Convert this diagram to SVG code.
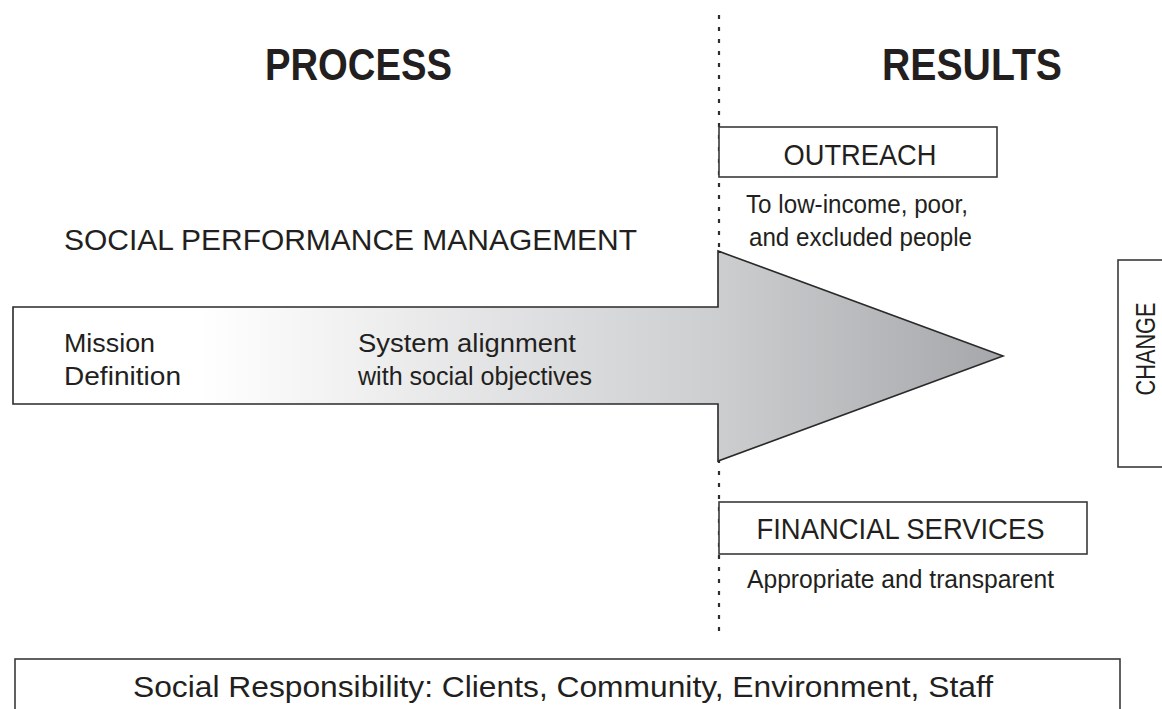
<svg xmlns="http://www.w3.org/2000/svg" width="1162" height="709" viewBox="0 0 1162 709">
<style>
  text { font-family: "Liberation Sans", Arial, sans-serif; fill: #231f20; }
  .title { font-size: 44px; font-weight: bold; }
  .cap { font-size: 29.5px; }
  .body { font-size: 25.5px; }
  .box { fill: #ffffff; stroke: #3a3a3a; stroke-width: 1.6; }
</style>
<defs>
  <linearGradient id="arrowGrad" gradientUnits="userSpaceOnUse" x1="13" y1="0" x2="1003" y2="0">
    <stop offset="0" stop-color="#ffffff"/>
    <stop offset="0.19" stop-color="#ffffff"/>
    <stop offset="0.71" stop-color="#cdced0"/>
    <stop offset="1" stop-color="#a6a7aa"/>
  </linearGradient>
</defs>
<rect width="1162" height="709" fill="#ffffff"/>

<g id="titles">
  <text class="title" x="358.5" y="80" text-anchor="middle" textLength="187" lengthAdjust="spacingAndGlyphs">PROCESS</text>
  <text class="title" x="972" y="80" text-anchor="middle" textLength="180" lengthAdjust="spacingAndGlyphs">RESULTS</text>
</g>

<g id="connectors">
  <line x1="719" y1="15" x2="719" y2="637" stroke="#2e2e2e" stroke-width="2.2" stroke-dasharray="4 8"/>
</g>

<g id="spm-arrow">
  <polygon points="13,307 718,307 718,251 1003,356 718,461 718,404 13,404" fill="url(#arrowGrad)" stroke="#2a2a2a" stroke-width="1.6" stroke-linejoin="miter"/>
  <text class="body" x="64" y="352" textLength="91" lengthAdjust="spacingAndGlyphs">Mission</text>
  <text class="body" x="64" y="385" textLength="117" lengthAdjust="spacingAndGlyphs">Definition</text>
  <text class="body" x="358" y="352" textLength="218" lengthAdjust="spacingAndGlyphs">System alignment</text>
  <text class="body" x="358" y="385" textLength="234" lengthAdjust="spacingAndGlyphs">with social objectives</text>
</g>

<g id="spm-label">
  <text class="cap" x="64" y="250" textLength="573" lengthAdjust="spacingAndGlyphs">SOCIAL PERFORMANCE MANAGEMENT</text>
</g>

<g id="outreach">
  <rect class="box" x="719" y="127" width="278" height="50"/>
  <text class="cap" x="860" y="165" text-anchor="middle" textLength="153" lengthAdjust="spacingAndGlyphs">OUTREACH</text>
  <text class="body" x="746" y="213" textLength="222" lengthAdjust="spacingAndGlyphs">To low-income, poor,</text>
  <text class="body" x="749" y="246" textLength="223" lengthAdjust="spacingAndGlyphs">and excluded people</text>
</g>

<g id="financial-services">
  <rect class="box" x="719" y="502" width="368" height="52"/>
  <text class="cap" x="900.5" y="539" text-anchor="middle" textLength="288" lengthAdjust="spacingAndGlyphs">FINANCIAL SERVICES</text>
  <text class="body" x="747" y="588" textLength="307" lengthAdjust="spacingAndGlyphs">Appropriate and transparent</text>
</g>

<g id="change">
  <rect class="box" x="1118" y="260" width="60" height="207"/>
  <text transform="translate(1155,349) rotate(-90)" x="0" y="0" text-anchor="middle" textLength="93" lengthAdjust="spacingAndGlyphs" style="font-size:27px">CHANGE</text>
</g>

<g id="social-responsibility">
  <rect class="box" x="15" y="659" width="1105" height="70"/>
  <text x="563" y="697" text-anchor="middle" textLength="860" lengthAdjust="spacingAndGlyphs" style="font-size:30px">Social Responsibility: Clients, Community, Environment, Staff</text>
</g>
</svg>
